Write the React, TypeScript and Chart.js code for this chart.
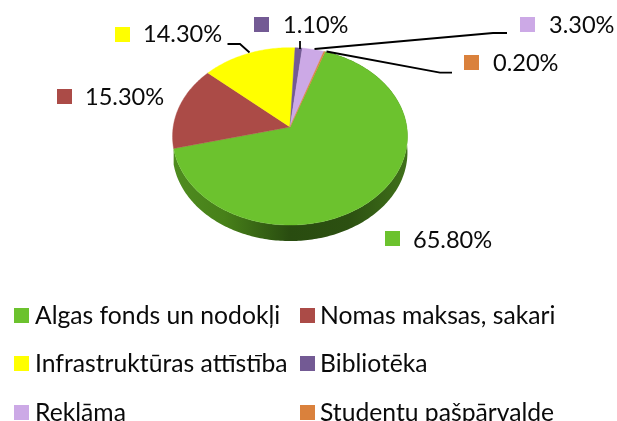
import React, { useEffect, useRef } from "react";
import { Chart, registerables } from "chart.js";

Chart.register(...registerables);

// ---- data ----
const categories = [
  "Algas fonds un nodokļi",
  "Nomas maksas, sakari",
  "Infrastruktūras attīstība",
  "Bibliotēka",
  "Reklāma",
  "Studentu pašpārvalde",
];
const shares = [65.8, 15.3, 14.3, 1.1, 3.3, 0.2];
const shareLabels = ["65.80%", "15.30%", "14.30%", "1.10%", "3.30%", "0.20%"];

// ---- styles & layout ----
const colors = ["#6CC22E", "#AB4B47", "#FFFF00", "#735A94", "#CCA9E6", "#DA813C"];
const FONT = '23.6px Lato';
const LEGEND_FONT = '24.7px Lato';
const INK = "#0A0A0A";
const SQUARE = 15;
const DEPTH = 16;
const RX = 116.8;
const RY = 87.7;
const PERSPECTIVE = 0.1055;
const ROTATION = 19.3;

// square x, square y, text x, text baseline
const labelPlaces = [
  [385, 231, 413, 248],
  [57, 89, 85, 105],
  [115, 27, 143, 42],
  [254, 17, 283, 33],
  [520, 17, 549, 33],
  [464, 55, 493, 71],
];
const leaderLines: (number[][] | null)[] = [
  null,
  null,
  [[227.5, 44], [240, 44], [249.5, 52.5]],
  [[300, 41], [300, 49]],
  [[507, 33], [493, 33], [314.5, 49]],
  [[452, 72.7], [440, 72.7], [326.5, 51.5]],
];
const legendPlaces = [
  [14, 308, 35, 324],
  [300, 308, 320, 324],
  [14, 356, 35, 372],
  [300, 356, 320, 372],
  [14, 405, 35, 421],
  [300, 405, 320, 421],
];

function project(el: any, angle: number) {
  const c = Math.cos(angle);
  const s = Math.sin(angle);
  const w = 1 - PERSPECTIVE * s;
  return [el.x + (RX * c) / w, el.y + (RY * s) / w];
}

function rim(el: any) {
  const pts: number[][] = [];
  const n = Math.max(2, Math.ceil(((el.endAngle - el.startAngle) * 180) / Math.PI));
  for (let i = 0; i <= n; i++) {
    pts.push(project(el, el.startAngle + ((el.endAngle - el.startAngle) * i) / n));
  }
  return pts;
}

const pie3d = {
  id: "pie3d",
  beforeDatasetDraw(chart: any) {
    const ctx = chart.ctx;
    const arcs = chart.getDatasetMeta(0).data;
    ctx.save();
    // Only the front slice's wall is visible below the top surface.
    const front = arcs[0];
    const pts = rim(front);
    ctx.beginPath();
    pts.forEach((p, k) => (k ? ctx.lineTo(p[0], p[1]) : ctx.moveTo(p[0], p[1])));
    [...pts].reverse().forEach((p) => ctx.lineTo(p[0], p[1] + DEPTH));
    ctx.closePath();
    const g = ctx.createLinearGradient(front.x - RX, 0, front.x + RX, 0);
    g.addColorStop(0, "#4F8C20");
    g.addColorStop(0.22, "#478019");
    g.addColorStop(0.5, "#294C10");
    g.addColorStop(0.75, "#2C5011");
    g.addColorStop(1, "#3F701A");
    ctx.fillStyle = g;
    ctx.fill();
    arcs.forEach((el: any, i: number) => {
      ctx.beginPath();
      ctx.moveTo(el.x, el.y);
      rim(el).forEach((p) => ctx.lineTo(p[0], p[1]));
      ctx.closePath();
      ctx.fillStyle = colors[i];
      ctx.strokeStyle = colors[i];
      ctx.lineWidth = 0.4;
      ctx.fill();
      ctx.stroke();
    });
    ctx.restore();
    return false;
  },
  afterDraw(chart: any) {
    const ctx = chart.ctx;
    ctx.save();
    ctx.textBaseline = "alphabetic";
    ctx.textAlign = "left";
    ctx.font = FONT;
    shareLabels.forEach((text, i) => {
      const [sx, sy, tx, ty] = labelPlaces[i];
      ctx.fillStyle = colors[i];
      ctx.fillRect(sx, sy, SQUARE, SQUARE);
      ctx.fillStyle = INK;
      ctx.fillText(text, tx, ty);
      const line = leaderLines[i];
      if (line) {
        ctx.beginPath();
        line.forEach((p, k) => (k ? ctx.lineTo(p[0], p[1]) : ctx.moveTo(p[0], p[1])));
        ctx.strokeStyle = "#000000";
        ctx.lineWidth = 1.8;
        ctx.stroke();
      }
    });
    ctx.font = LEGEND_FONT;
    categories.forEach((text, i) => {
      const [sx, sy, tx, ty] = legendPlaces[i];
      ctx.fillStyle = colors[i];
      ctx.fillRect(sx, sy, SQUARE, SQUARE);
      ctx.fillStyle = INK;
      ctx.fillText(text, tx, ty);
    });
    ctx.restore();
  },
};

export default function App() {
  const ref = useRef<HTMLCanvasElement | null>(null);
  useEffect(() => {
    document.body.style.margin = "0";
    document.body.style.background = "#ffffff";
    const chart = new Chart(ref.current as HTMLCanvasElement, {
      type: "pie",
      data: {
        labels: categories,
        datasets: [{ data: shares, backgroundColor: colors, borderWidth: 0 }],
      },
      options: {
        responsive: false,
        animation: false,
        rotation: ROTATION,
        layout: { padding: { left: 0, top: 0, right: 37, bottom: 167 } },
        plugins: { legend: { display: false }, tooltip: { enabled: false }, title: { display: false } },
      },
      plugins: [pie3d],
    } as any);
    return () => chart.destroy();
  }, []);
  return <canvas ref={ref} width={617} height={421} style={{ display: "block" }} />;
}
